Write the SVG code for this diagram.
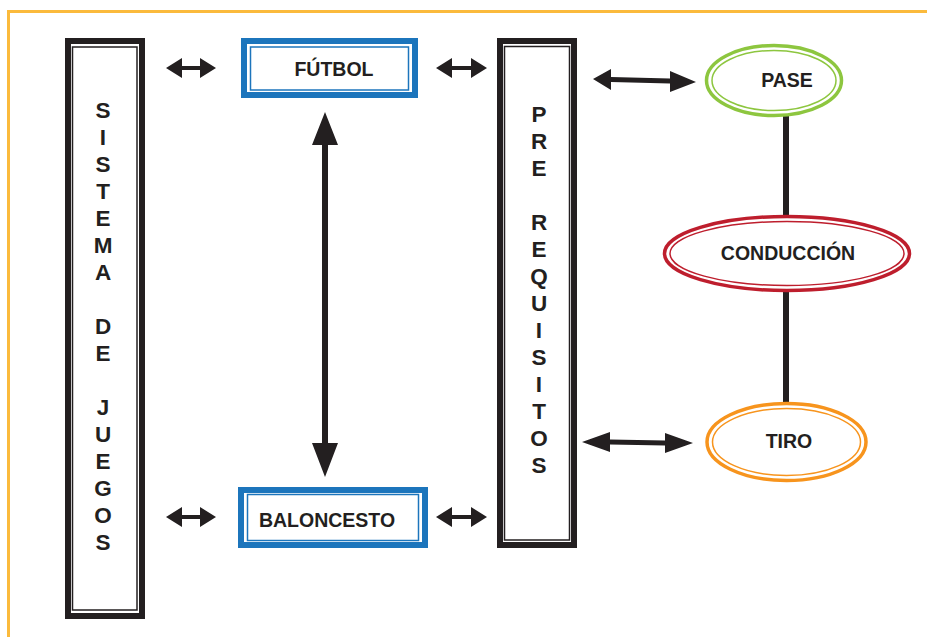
<svg xmlns="http://www.w3.org/2000/svg" width="927" height="637" viewBox="0 0 927 637">
<defs>
<style>
.frame{fill:none;stroke:#FBBA3C;stroke-width:3}
.bk{fill:#fff;stroke:#231F20;stroke-width:6}
.bki{fill:none;stroke:#231F20;stroke-width:1.5}
.bl{fill:#fff;stroke:#1C75BC;stroke-width:6}
.bli{fill:none;stroke:#1C75BC;stroke-width:1.5}
.t{font-family:"Liberation Sans",Arial,sans-serif;font-weight:bold;fill:#231F20;text-anchor:middle}
.vt{font-size:22.5px}
.lt{font-size:19.5px}
.line{stroke:#231F20;stroke-width:6;fill:none}
.arrow{fill:#231F20}
</style>
</defs>
<path class="frame" d="M8.5 637 V11.5 H927"/>

<g id="connectors">
<line class="line" x1="786" y1="116" x2="786" y2="216"/>
<line class="line" x1="786" y1="291" x2="786" y2="403"/>
<path class="arrow" d="M166 68 L182 58 L182 66 L200 66 L200 58 L216 68 L200 78 L200 70 L182 70 L182 78 Z"/>
<path class="arrow" d="M436 68 L452 58 L452 66 L471 66 L471 58 L487 68 L471 78 L471 70 L452 70 L452 78 Z"/>
<path class="arrow" d="M166 517 L182 507 L182 515 L200 515 L200 507 L216 517 L200 527 L200 519 L182 519 L182 527 Z"/>
<path class="arrow" d="M436 517 L452 507 L452 515 L471 515 L471 507 L487 517 L471 527 L471 519 L452 519 L452 527 Z"/>
<path class="arrow" d="M593 79 L611 69 L611 77 L670 78.5 L670 71 L696 82 L670 92 L670 83.5 L611 82 L611 90 Z"/>
<path class="arrow" d="M582 442 L610 432 L610 439.5 L665 440.5 L665 433 L693 443 L665 453 L665 445.5 L610 444.5 L610 452 Z"/>
<path class="arrow" d="M325 112 L338 145 L328 145 L328 443 L338 443 L325 477 L312 443 L322 443 L322 145 L312 145 Z"/>
</g>

<g id="sistema">
<rect class="bk" x="68" y="41" width="74" height="575"/>
<rect class="bki" x="72.5" y="47" width="64.5" height="563"/>
<g class="t vt">
<text x="103" y="118">S</text>
<text x="103" y="145">I</text>
<text x="103" y="172">S</text>
<text x="103" y="199">T</text>
<text x="103" y="226">E</text>
<text x="103" y="253">M</text>
<text x="103" y="280">A</text>
<text x="103" y="334">D</text>
<text x="103" y="361">E</text>
<text x="103" y="415">J</text>
<text x="103" y="442">U</text>
<text x="103" y="469">E</text>
<text x="103" y="496">G</text>
<text x="103" y="523">O</text>
<text x="103" y="550">S</text>
</g>
</g>

<g id="futbol">
<rect class="bl" x="244" y="41" width="171" height="54"/>
<rect class="bli" x="250.5" y="47" width="158" height="43"/>
<text class="t lt" x="334" y="76">FÚTBOL</text>
</g>

<g id="baloncesto">
<rect class="bl" x="241" y="490" width="184" height="55"/>
<rect class="bli" x="247.5" y="494.5" width="171" height="46"/>
<text class="t lt" x="327" y="527">BALONCESTO</text>
</g>

<g id="prerequisitos">
<rect class="bk" x="500" y="41" width="74" height="504"/>
<rect class="bki" x="504.5" y="46.5" width="65" height="493.5"/>
<g class="t vt">
<text x="539" y="122">P</text>
<text x="539" y="149">R</text>
<text x="539" y="176">E</text>
<text x="539" y="230">R</text>
<text x="539" y="257">E</text>
<text x="539" y="284">Q</text>
<text x="539" y="311">U</text>
<text x="539" y="338">I</text>
<text x="539" y="365">S</text>
<text x="539" y="392">I</text>
<text x="539" y="419">T</text>
<text x="539" y="446">O</text>
<text x="539" y="473">S</text>
</g>
</g>

<g id="pase">
<ellipse cx="774" cy="80.5" rx="67.5" ry="35" fill="#fff" stroke="#8DC63F" stroke-width="3.5"/>
<ellipse cx="774" cy="80.5" rx="62" ry="30" fill="none" stroke="#8DC63F" stroke-width="1.5"/>
<text class="t lt" x="787" y="87">PASE</text>
</g>

<g id="conduccion">
<ellipse cx="787" cy="253.5" rx="122.5" ry="37" fill="#fff" stroke="#BE1E2D" stroke-width="3.5"/>
<ellipse cx="787" cy="253.5" rx="117" ry="32" fill="none" stroke="#BE1E2D" stroke-width="1.5"/>
<text class="t lt" x="788" y="260">CONDUCCIÓN</text>
</g>

<g id="tiro">
<ellipse cx="786.5" cy="442" rx="79.5" ry="38.5" fill="#fff" stroke="#F7941D" stroke-width="3.5"/>
<ellipse cx="786.5" cy="442" rx="74" ry="33.5" fill="none" stroke="#F7941D" stroke-width="1.5"/>
<text class="t lt" x="789" y="448">TIRO</text>
</g>
</svg>
